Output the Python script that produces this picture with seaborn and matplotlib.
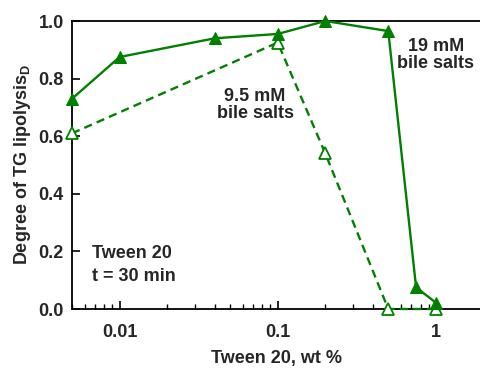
import matplotlib
matplotlib.use("Agg")
import matplotlib.pyplot as plt
import matplotlib.ticker as mticker
import seaborn as sns
import pandas as pd

# Data
tween_19 = [0.005, 0.01, 0.04, 0.1, 0.2, 0.5, 0.75, 1.0]
lipolysis_19 = [0.73, 0.875, 0.94, 0.955, 1.0, 0.965, 0.075, 0.022]
tween_95 = [0.005, 0.1, 0.2, 0.5, 1.0]
lipolysis_95 = [0.61, 0.925, 0.54, 0.0, 0.0]

x_ticks = [0.01, 0.1, 1]
x_tick_labels = ["0.01", "0.1", "1"]
y_ticks = [0.0, 0.2, 0.4, 0.6, 0.8, 1.0]

sns.set_theme(style="white")
plt.rcParams['font.family'] = ['Liberation Sans', 'DejaVu Sans']
plt.rcParams['mathtext.fontset'] = 'custom'
plt.rcParams['mathtext.bf'] = 'Liberation Sans:bold'
plt.rcParams['mathtext.rm'] = 'Liberation Sans'

green = "#008000"

fig = plt.figure(figsize=(4.81, 3.68), dpi=100)
ax = fig.add_axes([72/481, 1 - 309/368, 1 - 72/481, (309 - 21)/368])

df19 = pd.DataFrame({"x": tween_19, "y": lipolysis_19})
df95 = pd.DataFrame({"x": tween_95, "y": lipolysis_95})

sns.lineplot(data=df19, x="x", y="y", ax=ax, sort=False, color=green,
             linewidth=1.7, marker="^", markersize=8.5,
             markerfacecolor=green, markeredgecolor=green, zorder=4)
sns.lineplot(data=df95, x="x", y="y", ax=ax, sort=False, color=green,
             linewidth=1.7, marker="^", markersize=8.5,
             markerfacecolor="white", markeredgecolor=green, markeredgewidth=1.3,
             zorder=3)
for line in ax.lines[1:]:
    line.set_linestyle((0, (3.5, 2.2)))
for line in ax.lines:
    line.set_clip_on(False)

ax.set_xscale("log")
ax.set_xlim(0.005, 1.93)
ax.set_ylim(0, 1.0)

ax.set_xticks(x_ticks)
ax.set_xticklabels(x_tick_labels)
ax.xaxis.set_minor_locator(mticker.LogLocator(base=10, subs=range(2, 10)))
ax.xaxis.set_minor_formatter(mticker.NullFormatter())
ax.set_yticks(y_ticks)
ax.set_yticklabels([f"{v:.1f}" for v in y_ticks])

ax.tick_params(axis="both", which="major", direction="in", length=6, width=1.2,
               color="black", labelsize=13, bottom=True, left=True)
ax.tick_params(axis="x", which="major", pad=11)
ax.tick_params(axis="y", which="major", pad=6)
ax.tick_params(axis="x", which="minor", direction="in", length=3.5, width=1.0,
               color="black", bottom=True)
for lab in ax.get_xticklabels() + ax.get_yticklabels():
    lab.set_fontweight("bold")

for s in ["left", "bottom", "top"]:
    ax.spines[s].set_visible(True)
    ax.spines[s].set_color("black")
    ax.spines[s].set_linewidth(1.3)
ax.spines["right"].set_visible(False)

ax.set_xlabel("Tween 20, wt %", fontsize=13, fontweight="bold", labelpad=6)
ax.set_ylabel(r"Degree of TG lipolysis$_{\mathbf{D}}$", fontsize=13,
              fontweight="bold", labelpad=4)

ax.text(1.0, 0.882, "19 mM\nbile salts", ha="center", va="center",
        fontsize=13, fontweight="bold", linespacing=1.05)
ax.text(0.072, 0.708, "9.5 mM\nbile salts", ha="center", va="center",
        fontsize=13, fontweight="bold", linespacing=1.05)
ax.text(0.0067, 0.153, "Tween 20\nt = 30 min", ha="left", va="center",
        fontsize=13, fontweight="bold", linespacing=1.45)

fig.savefig("out.png", dpi=100)
